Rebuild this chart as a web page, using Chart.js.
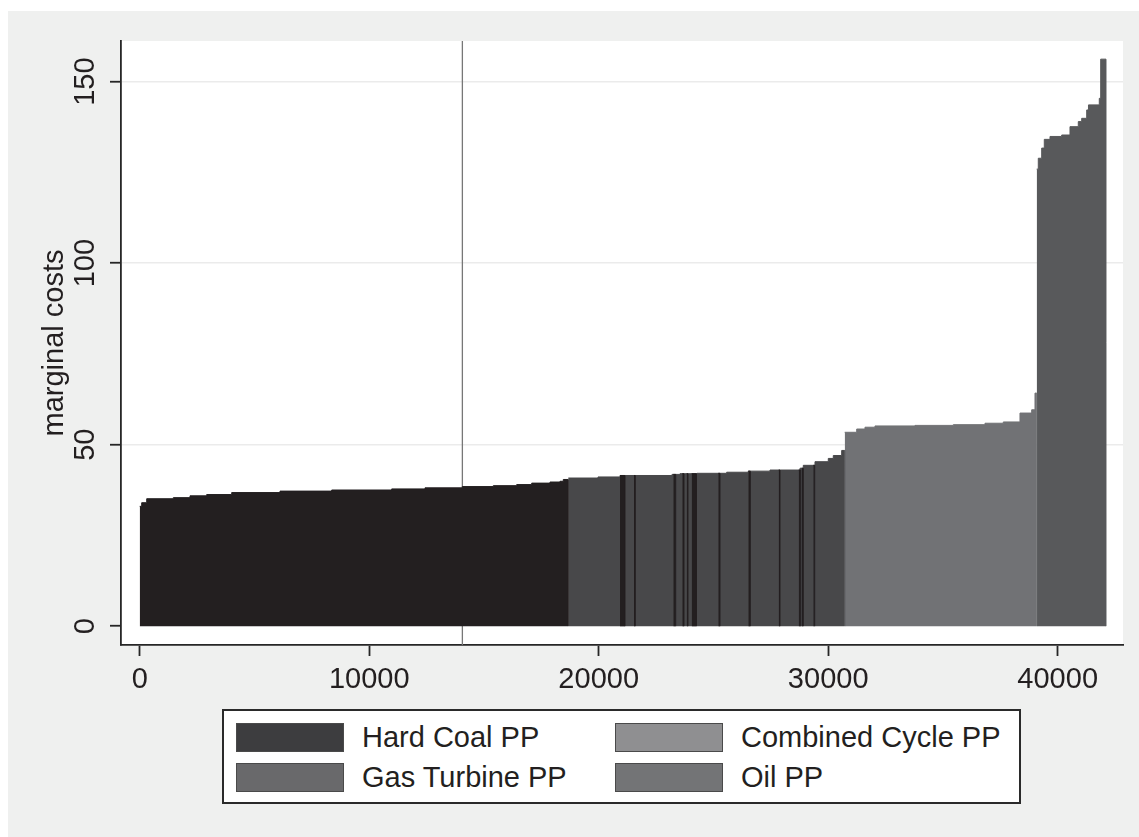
<!DOCTYPE html>
<html>
<head>
<meta charset="utf-8">
<script src="https://cdn.jsdelivr.net/npm/chart.js@4/dist/chart.umd.min.js"></script>
<style>
  html, body { margin: 0; padding: 0; background: #ffffff; }
  body { width: 1139px; height: 837px; position: relative; overflow: hidden;
         font-family: "Liberation Sans", Arial, sans-serif; }
  #frame { position: absolute; left: 8px; top: 11px; right: 0; bottom: 0; background: #eff0ef; }
  #chart { position: absolute; left: 0; top: 0; }
  #legend { position: absolute; left: 222px; top: 709px; width: 795px; height: 91px;
            border: 2px solid #2a2a2a; background: #ffffff; }
  .key { position: absolute; width: 106px; height: 27px; border: 1px solid #4a4a4a; }
  .lab { position: absolute; font-size: 29px; line-height: 29px; color: #231f20; white-space: nowrap; }
</style>
</head>
<body>
<div id="frame"></div>
<canvas id="chart" width="1139" height="837"></canvas>
<div id="legend"></div>
<script>
// Merit-order curve: each block starts at the given cumulative capacity (MW)
// and holds its marginal cost until the next entry; 0 closes a block.
const xTicks = [0, 10000, 20000, 30000, 40000];
const yTicks = [0, 50, 100, 150];

const seriesNames = ['Hard Coal PP', 'Gas Turbine PP', 'Combined Cycle PP', 'Oil PP'];

const hardCoalMW = [0, 87, 305, 1464, 2192, 2919, 4009, 6113, 8366, 10980, 12431, 14057, 15407,
  16427, 17081, 17878, 18314, 18458, 18676, 20928, 21146, 21538, 21595, 23251, 23355, 23643,
  23717, 23834, 23891, 24052, 24261, 25211, 25285, 26519, 26606, 27843, 27900, 28715, 28802,
  28845, 28915, 29351, 29412];
const hardCoalCost = [33.0, 34.0, 35.1, 35.4, 35.9, 36.25, 36.8, 37.2, 37.5, 37.8, 38.1, 38.45, 38.7,
  39.0, 39.4, 39.7, 39.9, 40.4, 0, 41.5, 0, 41.5, 0, 41.8, 0, 42.0,
  0, 42.0, 0, 42.0, 0, 42.1, 0, 42.7, 0, 43.0, 0, 43.0, 0,
  43.5, 0, 44.3, 0];

const gasTurbineMW = [18676, 19970, 20928, 23194, 23543, 24283, 25577, 26519, 27464, 28771, 28915,
  29425, 30004, 30222, 30588, 30719];
const gasTurbineCost = [40.8, 41.1, 41.5, 41.8, 42.0, 42.1, 42.4, 42.7, 43.0, 43.5, 44.3,
  45.3, 46.2, 47.0, 48.4, 0];

const combinedCycleMW = [30719, 31242, 31603, 32039, 33782, 35451, 36832, 37630, 38357, 38867, 39011, 39085];
const combinedCycleCost = [53.4, 54.3, 54.8, 55.15, 55.3, 55.5, 55.9, 56.25, 58.7, 59.6, 64.2, 0];

const oilMW = [39085, 39155, 39303, 39416, 39665, 40174, 40536, 40898, 41046, 41264, 41342, 41813, 41874, 42105];
const oilCost = [125.9, 128.9, 131.7, 134.1, 134.9, 135.3, 137.6, 139.0, 139.9, 142.2, 143.6, 145.4, 156.2, 0];

// demand level marked by the vertical line
const demandMW = 14060;

const barColors = ['#231f20', '#48484a', '#717275', '#58595b'];
const keyColors = ['#3d3d3f', '#69696b', '#8f8f91', '#737476'];

const xRange = [-815, 42846];
const yRange = [-5.2, 161.2];

const toPoints = (xs, ys) => xs.map((x, i) => ({ x: x, y: ys[i] }));

// Filled step outline; the outline is stroked in the fill colour so that
// neighbouring blocks meet without a light seam, but not along the baseline.
function stepSeries(label, xs, ys, color) {
  return {
    label: label,
    data: toPoints(xs, ys),
    stepped: 'before',
    fill: 'origin',
    backgroundColor: color,
    borderColor: color,
    borderWidth: 1,
    segment: {
      borderColor: ctx => (ctx.p0.parsed.y === 0 ? 'rgba(0,0,0,0)' : color)
    },
    pointRadius: 0,
    tension: 0
  };
}

const textColor = '#231f20';
const axisColor = '#262626';
const font29 = { family: '"Liberation Sans", Arial, sans-serif', size: 29 };

const plotBackground = {
  id: 'plotBackground',
  beforeDraw(chart) {
    const { ctx, chartArea: a } = chart;
    ctx.save();
    ctx.fillStyle = '#ffffff';
    ctx.fillRect(a.left, a.top, a.right - a.left, a.bottom - a.top);
    ctx.restore();
  }
};

const chart = new Chart(document.getElementById('chart'), {
  type: 'line',
  data: {
    datasets: [
      stepSeries(seriesNames[0], hardCoalMW, hardCoalCost, barColors[0]),
      stepSeries(seriesNames[1], gasTurbineMW, gasTurbineCost, barColors[1]),
      stepSeries(seriesNames[2], combinedCycleMW, combinedCycleCost, barColors[2]),
      stepSeries(seriesNames[3], oilMW, oilCost, barColors[3]),
      {
        label: 'demand',
        data: [{ x: demandMW, y: yRange[0] }, { x: demandMW, y: yRange[1] }],
        borderColor: '#777777',
        borderWidth: 1.3,
        pointRadius: 0,
        fill: false
      }
    ]
  },
  options: {
    responsive: false,
    animation: false,
    devicePixelRatio: 1,
    layout: { padding: { top: 41, right: 16, left: 0, bottom: 0 } },
    plugins: {
      legend: { display: false },
      tooltip: { enabled: false }
    },
    scales: {
      x: {
        type: 'linear',
        min: xRange[0],
        max: xRange[1],
        afterFit(scale) { scale.height = 192; },
        afterBuildTicks(scale) { scale.ticks = xTicks.map(v => ({ value: v })); },
        border: { display: true, color: axisColor, width: 1.8 },
        grid: { drawOnChartArea: false, drawTicks: true, tickLength: 11, tickColor: axisColor, tickWidth: 1.8 },
        ticks: { color: textColor, font: font29, padding: 6.5, maxRotation: 0, minRotation: 0,
                 callback: v => String(v) }
      },
      y: {
        type: 'linear',
        min: yRange[0],
        max: yRange[1],
        afterFit(scale) { scale.width = 121; },
        afterBuildTicks(scale) { scale.ticks = yTicks.map(v => ({ value: v })); },
        border: { display: true, color: axisColor, width: 1.8 },
        grid: {
          drawOnChartArea: true,
          drawTicks: true,
          tickLength: 11,
          tickColor: axisColor,
          tickWidth: 1.8,
          lineWidth: 1.5,
          color: ctx => (ctx.tick && ctx.tick.value === 0) ? 'rgba(0,0,0,0)' : '#ebebeb'
        },
        ticks: { color: textColor, font: font29, padding: 0, minRotation: 90, maxRotation: 90, crossAlign: 'center',
                 callback: v => String(v) },
        title: {
          display: true,
          text: 'marginal costs',
          color: textColor,
          font: font29,
          padding: { top: 37.5, bottom: 0 }
        }
      }
    }
  },
  plugins: [plotBackground]
});

// Legend box: two columns, two rows
const legend = document.getElementById('legend');
const keySlots = [[0, 0], [0, 1], [1, 0], [1, 1]]; // [column, row] per series
const colX = [12, 391];
const rowY = [12, 52];
seriesNames.forEach((name, i) => {
  const [c, r] = keySlots[i];
  const key = document.createElement('div');
  key.className = 'key';
  key.style.left = colX[c] + 'px';
  key.style.top = rowY[r] + 'px';
  key.style.background = keyColors[i];
  legend.appendChild(key);
  const lab = document.createElement('div');
  lab.className = 'lab';
  lab.style.left = (colX[c] + 126) + 'px';
  lab.style.top = rowY[r] + 'px';
  lab.textContent = name;
  legend.appendChild(lab);
});
</script>
</body>
</html>
